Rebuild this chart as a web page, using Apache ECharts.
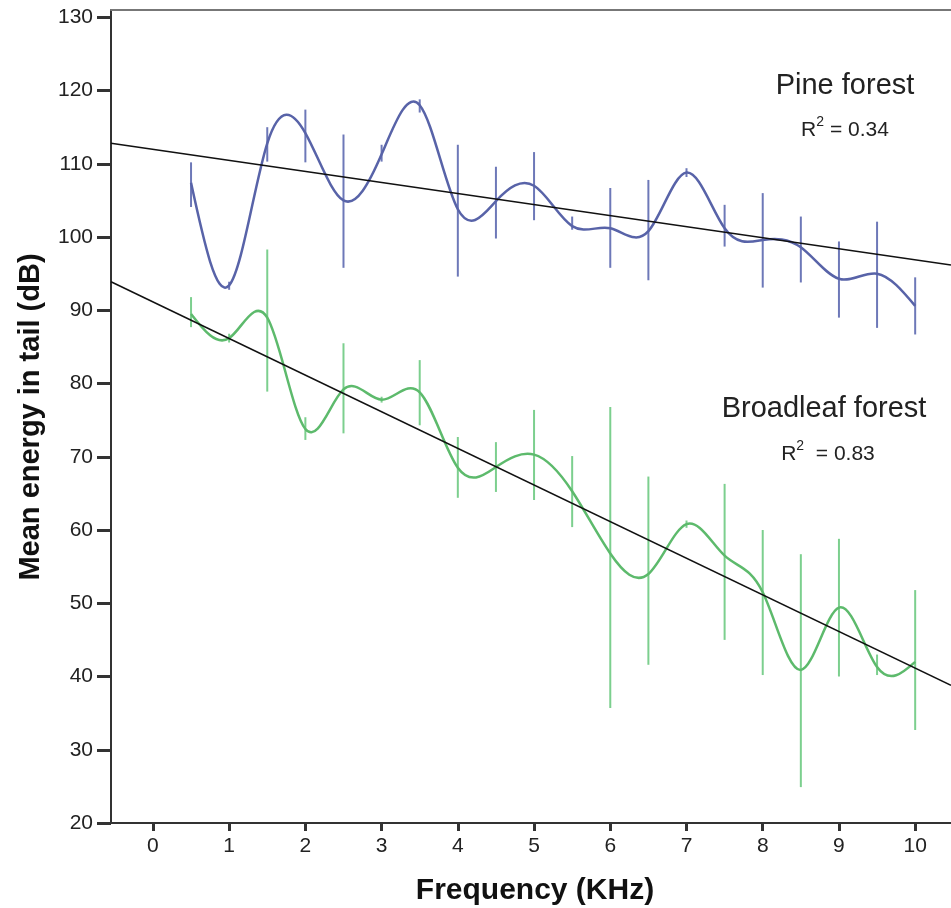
<!DOCTYPE html>
<html>
<head>
<meta charset="utf-8">
<script src="https://cdn.jsdelivr.net/npm/echarts@6/dist/echarts.min.js"></script>
<style>
html,body{margin:0;padding:0;background:#fff;}
#chart{width:951px;height:908px;}
</style>
</head>
<body>
<div id="chart"></div>
<script>
// ---- data ----
const xValues = [0.5,1,1.5,2,2.5,3,3.5,4,4.5,5,5.5,6,6.5,7,7.5,8,8.5,9,9.5,10];

const pineMean = [107.4,93.4,112.8,114.2,105,111.3,118,103.8,104.9,107,101.5,101.2,100.8,108.8,101.2,99.6,98.6,94.3,95,90.6];
const pineLow  = [104.1,92.8,110.3,110.2,95.8,110.3,117,94.6,99.8,102.3,101,95.8,94.1,108.2,98.7,93.1,93.8,89,87.6,86.7];
const pineHigh = [110.2,93.9,115,117.4,114,112.6,118.8,112.6,109.6,111.6,102.8,106.7,107.8,109.4,104.4,106,102.8,99.4,102.1,94.5];

const broadMean = [89.5,86.2,89,73.8,79.2,77.8,78.8,68.5,68.6,70.3,65.3,56.8,54,60.8,56.5,51.5,40.9,49.4,41.3,42];
const broadLow  = [87.7,85.6,78.9,72.3,73.2,77.4,74.3,64.4,65.2,64.1,60.4,35.7,41.6,60.3,45,40.2,24.9,40,40.2,32.7];
const broadHigh = [91.8,86.8,98.3,75.4,85.5,78.2,83.2,72.7,72,76.4,70.1,76.8,67.3,61.3,66.3,60,56.7,58.8,43,51.8];

// regression line end points
const pineFitX = [-0.55, 10.47];
const pineFitY = [112.8, 96.2];
const broadFitX = [-0.55, 10.47];
const broadFitY = [93.9, 38.8];

const xTicks = [0,1,2,3,4,5,6,7,8,9,10];
const yTicks = [20,30,40,50,60,70,80,90,100,110,120,130];

const pineLabel = 'Pine forest';
const pineR2 = '0.34';
const broadLabel = 'Broadleaf forest';
const broadR2 = '0.83';

// ---- helpers ----
const FONT = '"Liberation Sans", Arial, sans-serif';
const X_MIN = -0.55, X_MAX = 10.47;

function zip(a, b) { return a.map((v, i) => [v, b[i]]); }
function bars(xs, lo, hi) { return xs.map((v, i) => [v, lo[i], hi[i]]); }

// natural cubic spline through the points, rendered as bezier path via api.coord
function splineRender(xs, ys, color, width) {
  return function (params, api) {
    if (params.dataIndex !== 0) return null;
    const n = xs.length;
    const h = [], al = [], l = [1], mu = [0], z = [0];
    for (let i = 0; i < n - 1; i++) h[i] = xs[i + 1] - xs[i];
    for (let i = 1; i < n - 1; i++) {
      al[i] = 3 / h[i] * (ys[i + 1] - ys[i]) - 3 / h[i - 1] * (ys[i] - ys[i - 1]);
    }
    for (let i = 1; i < n - 1; i++) {
      l[i] = 2 * (xs[i + 1] - xs[i - 1]) - h[i - 1] * mu[i - 1];
      mu[i] = h[i] / l[i];
      z[i] = (al[i] - h[i - 1] * z[i - 1]) / l[i];
    }
    const c = new Array(n).fill(0);
    for (let j = n - 2; j >= 1; j--) c[j] = z[j] - mu[j] * c[j + 1];
    const p0 = api.coord([xs[0], ys[0]]);
    let d = 'M' + p0[0] + ' ' + p0[1];
    for (let i = 0; i < n - 1; i++) {
      const hi = h[i];
      const b = (ys[i + 1] - ys[i]) / hi - hi * (c[i + 1] + 2 * c[i]) / 3;
      const dl = b;
      const dr = b + 2 * c[i] * hi + (c[i + 1] - c[i]) * hi;
      const c1 = api.coord([xs[i] + hi / 3, ys[i] + dl * hi / 3]);
      const c2 = api.coord([xs[i + 1] - hi / 3, ys[i + 1] - dr * hi / 3]);
      const e = api.coord([xs[i + 1], ys[i + 1]]);
      d += ' C' + c1[0] + ' ' + c1[1] + ' ' + c2[0] + ' ' + c2[1] + ' ' + e[0] + ' ' + e[1];
    }
    return {
      type: 'path',
      shape: { pathData: d },
      style: { fill: 'none', stroke: color, lineWidth: width }
    };
  };
}

function barRender(color, width) {
  return function (params, api) {
    const x = api.value(0);
    const a = api.coord([x, api.value(1)]);
    const b = api.coord([x, api.value(2)]);
    return {
      type: 'line',
      shape: { x1: a[0], y1: a[1], x2: b[0], y2: b[1] },
      style: { stroke: color, lineWidth: width }
    };
  };
}

const chart = echarts.init(document.getElementById('chart'), null, { renderer: 'canvas' });

const option = {
  animation: false,
  backgroundColor: '#ffffff',
  grid: { left: 111, right: 0, top: 10, bottom: 85, show: false },
  xAxis: [
    {
      type: 'value', min: X_MIN, max: X_MAX, position: 'bottom',
      axisLine: { show: true, onZero: false, lineStyle: { color: '#333', width: 2 } },
      axisTick: { show: true, length: 8, inside: false, lineStyle: { color: '#333', width: 3 }, customValues: xTicks },
      axisLabel: { customValues: xTicks, color: '#222', fontSize: 21, fontFamily: FONT, margin: 13 },
      splitLine: { show: false }
    },
    {
      type: 'value', min: X_MIN, max: X_MAX, position: 'top',
      axisLine: { show: true, onZero: false, lineStyle: { color: '#777', width: 2 } },
      axisTick: { show: false }, axisLabel: { show: false }, splitLine: { show: false }
    }
  ],
  yAxis: {
    type: 'value', min: 20, max: 131,
    axisLine: { show: true, onZero: false, lineStyle: { color: '#333', width: 2 } },
    axisTick: { show: true, length: 14, inside: false, lineStyle: { color: '#333', width: 3 }, customValues: yTicks },
    axisLabel: { customValues: yTicks, color: '#222', fontSize: 21, fontFamily: FONT, margin: 18 },
    splitLine: { show: false }
  },
  series: [
    {
      type: 'custom', name: 'pineBars', renderItem: barRender('#6d78b8', 2),
      data: bars(xValues, pineLow, pineHigh), encode: { x: 0, y: [1, 2] }, clip: true, z: 2
    },
    {
      type: 'custom', name: 'broadBars', renderItem: barRender('#7ccf8e', 2),
      data: bars(xValues, broadLow, broadHigh), encode: { x: 0, y: [1, 2] }, clip: true, z: 2
    },
    {
      type: 'custom', name: 'pineCurve', renderItem: splineRender(xValues, pineMean, '#5863a8', 2.5),
      data: zip(xValues, pineMean), encode: { x: 0, y: 1 }, clip: true, z: 3
    },
    {
      type: 'custom', name: 'broadCurve', renderItem: splineRender(xValues, broadMean, '#5dba6c', 2.5),
      data: zip(xValues, broadMean), encode: { x: 0, y: 1 }, clip: true, z: 3
    },
    {
      type: 'line', name: 'pineFit', data: zip(pineFitX, pineFitY), symbol: 'none',
      lineStyle: { color: '#111', width: 1.5 }, clip: true, z: 4
    },
    {
      type: 'line', name: 'broadFit', data: zip(broadFitX, broadFitY), symbol: 'none',
      lineStyle: { color: '#111', width: 1.5 }, clip: true, z: 4
    }
  ],
  graphic: [
    {
      type: 'text', x: 31, y: 417, rotation: Math.PI / 2,
      style: { text: 'Mean energy in tail (dB)', font: 'bold 29px ' + FONT, fill: '#111', align: 'center', verticalAlign: 'middle' }
    },
    {
      type: 'text', x: 535, y: 891,
      style: { text: 'Frequency (KHz)', font: 'bold 30px ' + FONT, fill: '#111', align: 'center', verticalAlign: 'middle' }
    },
    {
      type: 'text', x: 845, y: 86,
      style: { text: pineLabel, font: '29px ' + FONT, fill: '#222', align: 'center', verticalAlign: 'middle' }
    },
    {
      type: 'text', x: 845, y: 128,
      style: {
        text: '{r|R}{s|2}{r| = ' + pineR2 + '}', align: 'center', verticalAlign: 'middle',
        rich: {
          r: { fontSize: 21, fontFamily: FONT, fill: '#222', verticalAlign: 'bottom', lineHeight: 26 },
          s: { fontSize: 14, fontFamily: FONT, fill: '#222', verticalAlign: 'top', lineHeight: 26 }
        }
      }
    },
    {
      type: 'text', x: 824, y: 409,
      style: { text: broadLabel, font: '29px ' + FONT, fill: '#222', align: 'center', verticalAlign: 'middle' }
    },
    {
      type: 'text', x: 828, y: 452,
      style: {
        text: '{r|R}{s|2}{r|  = ' + broadR2 + '}', align: 'center', verticalAlign: 'middle',
        rich: {
          r: { fontSize: 21, fontFamily: FONT, fill: '#222', verticalAlign: 'bottom', lineHeight: 26 },
          s: { fontSize: 14, fontFamily: FONT, fill: '#222', verticalAlign: 'top', lineHeight: 26 }
        }
      }
    }
  ]
};

chart.setOption(option);
</script>
</body>
</html>
